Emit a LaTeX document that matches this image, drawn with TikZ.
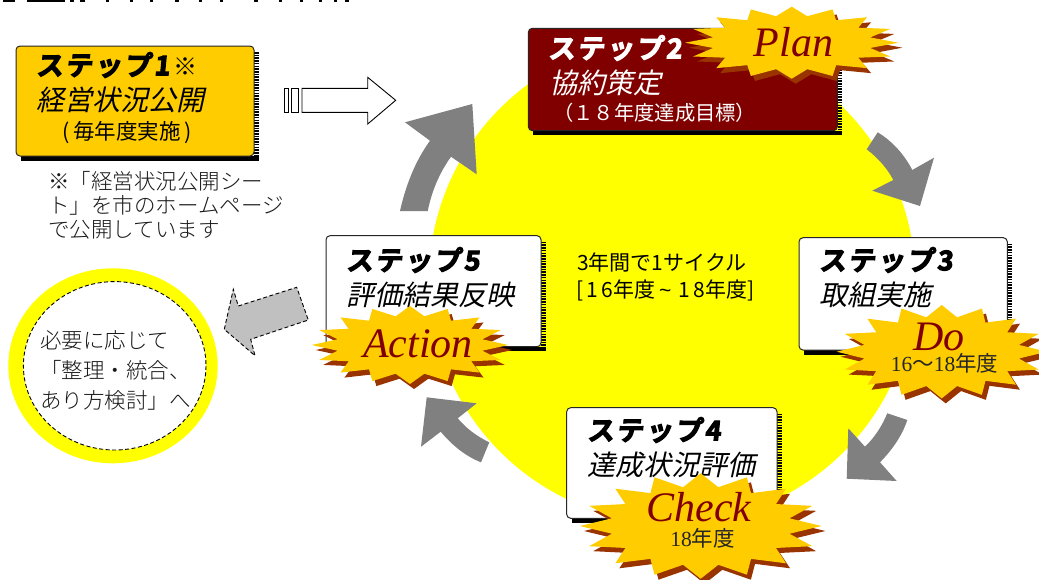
\documentclass[tikz,border=0pt]{standalone}
\usepackage{fontspec}
\setmainfont{Liberation Serif}
\newfontfamily\jp{Noto Sans CJK JP}
\newfontfamily\jpl{Noto Sans CJK JP Light}
\newfontfamily\jpit[FakeSlant=0.22]{Noto Sans CJK JP}
\newfontfamily\stepf[FakeBold=4,FakeSlant=0.1,LetterSpace=9]{Noto Sans CJK JP Bold}
\definecolor{goldy}{HTML}{FFCC00}
\definecolor{maroony}{HTML}{800000}
\definecolor{rusty}{HTML}{993300}
\definecolor{arrowgray}{HTML}{808080}
\definecolor{lightgray2}{HTML}{C0C0C0}
\definecolor{sunny}{HTML}{FFFF00}
\tikzset{
  frame/.style={draw=black!85,line width=1pt,rounded corners=4pt,anchor=north west,inner sep=0pt,outer sep=0pt},
  stepname/.style={font={\stepf\fontsize{27}{27}\selectfont},anchor=west,inner sep=0pt},
  stepsub/.style={font={\jpit\fontsize{28}{28}\selectfont},anchor=west,inner sep=0pt},
  plain/.style={font={\jpl\fontsize{21.5}{24}\selectfont},anchor=west,inner sep=0pt,text=black!90},
  caption/.style={font={\jp\fontsize{21}{21}\selectfont},anchor=west,inner sep=0pt},
  starword/.style={font={\itshape\fontsize{42}{42}\selectfont},text=maroony,anchor=base,inner sep=0pt},
  staryear/.style={font={\fontsize{21.5}{22}\selectfont},text=black!85,anchor=base,inner sep=0pt},
  bigarrow/.style={fill=arrowgray,draw=none},
}
\newcommand{\boxshadow}[4]{% x1 y1 x2 y2
  \fill[black] ({#1+5},{#4}) rectangle ({#3+5},{#4+4.5});
  \draw[black,line width=4.5pt,dash pattern=on 1.6pt off 1.1pt] ({#3+2.5},{#2+6}) -- ({#3+2.5},{#4+4});
}
\newcommand{\burst}[4]{% cx cy rx ry
  \fill[rusty] plot[samples at={0,...,31},variable=\k] ({#1+4+#3*ifthenelse(mod(\k,2)==0,1,0.75)*cos(\k*11.25)},{#2+5+#4*ifthenelse(mod(\k,2)==0,1,0.75)*sin(\k*11.25)}) -- cycle;
  \fill[goldy] plot[samples at={0,...,31},variable=\k] ({#1+#3*ifthenelse(mod(\k,2)==0,1,0.75)*cos(\k*11.25)},{#2+#4*ifthenelse(mod(\k,2)==0,1,0.75)*sin(\k*11.25)}) -- cycle;
}
\begin{document}
\begin{tikzpicture}[x=1pt,y=-1pt]
\useasboundingbox (0,0) rectangle (1039,579);
\fill[white] (0,0) rectangle (1039,579);
% clipped remains of a title along the top edge
\foreach \a/\b in {3/15,27/65,70/74,80/85,106/109,130/133,150/153,175/179,199/202,220/223,254/258,279/282,300/303,319/322,334/337,345/349}
  \fill[black] (\a,0) rectangle (\b,2);
% big yellow circle
\fill[sunny] (672,280) circle (243);
% curved grey arrows
\fill[bigarrow] (400,211) .. controls (406,184) and (416,160) .. (430,140.7) -- (405,122.3) -- (472.3,104) -- (476.7,174.3) -- (451,156.7) .. controls (440,172) and (432,190) .. (427.7,211) -- cycle;
\fill[bigarrow] (877.7,132.3) .. controls (892,141) and (904,154) .. (912.3,170) -- (934,157.7) -- (920,206) -- (872.3,190.7) -- (893.3,180) .. controls (887,168) and (878,158) .. (866.7,149.3) -- cycle;
\fill[bigarrow] (887.3,413.3) -- (907.3,420) .. controls (902,436) and (892,450) .. (880,462.3) -- (896.7,481) -- (846.7,478.7) -- (848.3,428.3) -- (865,446.7) .. controls (875,437) and (882,426) .. (887.3,413.3) -- cycle;
\fill[bigarrow] (489.3,442.3) -- (481,462.3) .. controls (465,456) and (452,445) .. (440.7,431.7) -- (421,446.7) -- (426.7,397.3) -- (476.7,403.3) -- (457.7,418.3) .. controls (466,428) and (476,436) .. (489.3,442.3) -- cycle;
% white striped block arrow
\draw[black,line width=0.9pt,fill=white] (284.3,88.3) rectangle (288.7,112.3);
\draw[black,line width=0.9pt,fill=white] (291.7,88.3) rectangle (298.7,112.3);
\draw[black,line width=0.9pt,fill=white] (302,88.3) -- (367.7,88.3) -- (367.7,77.3) -- (395.7,100.3) -- (367.7,124) -- (367.7,112.3) -- (302,112.3) -- cycle;
% dashed grey block arrow
\draw[black,line width=0.9pt,dash pattern=on 4pt off 2.5pt,fill=lightgray2] (224.3,329.3) -- (233.3,289.3) -- (238.3,306) -- (296.7,287.3) -- (308.3,320) -- (250.7,339.3) -- (255,355.7) -- cycle;
% ring
\fill[sunny] (113,365.8) ellipse (104.7 and 97.5);
\draw[black,line width=0.9pt,dash pattern=on 4pt off 2.5pt,fill=white] (114.7,365.8) ellipse (91.3 and 84.2);
\node[plain] (r1) at (40,340) {必要に応じて};
\node[plain] (r2) at (40,370) {「整理・統合、};
\node[plain] (r3) at (40,400) {あり方検討」へ};
% step 1
\boxshadow{16}{46}{254}{156}
\node[frame,fill=goldy,minimum width=238pt,minimum height=110pt] (s1) at (16,46) {};
\node[stepname] (s1a) at (36,65) {ステップ1};
\node[font={\jpl\fontsize{24}{24}\selectfont},anchor=center,inner sep=0pt] (s1m) at (185,67) {※};
\node[stepsub] (s1b) at (36,100) {経営状況公開};
\node[font={\jp\fontsize{21.5}{21.5}\selectfont},anchor=west,inner sep=0pt] (s1c) at (62,133) {(\,毎年度実施\,)};
\node[plain] (n1) at (48,181) {※「経営状況公開シー};
\node[plain] (n2) at (48,205) {ト」を市のホームページ};
\node[plain] (n3) at (48,230) {で公開しています};
% step 2
\boxshadow{528.3}{28.3}{837.3}{130.7}
\node[frame,fill=maroony,minimum width=309pt,minimum height=102.4pt] (s2) at (528.3,28.3) {};
\node[stepname,text=white] (s2a) at (548,48) {ステップ2};
\node[stepsub,text=white] (s2b) at (549,83) {協約策定};
\node[font={\jp\fontsize{20.3}{20}\selectfont},text=white,anchor=west,inner sep=0pt] (s2c) at (553,113) {（１８年度達成目標）};
% step 3
\boxshadow{799}{237.7}{1007.3}{350}
\node[frame,fill=white,minimum width=208.3pt,minimum height=112.3pt] (s3) at (799,237.7) {};
\node[stepname] (s3a) at (819,260) {ステップ3};
\node[stepsub] (s3b) at (819,295) {取組実施};
% step 4
\boxshadow{566.7}{407.7}{777}{518.3}
\node[frame,fill=white,minimum width=210.3pt,minimum height=110.6pt] (s4) at (566.7,407.7) {};
\node[stepname] (s4a) at (587,430) {ステップ4};
\node[stepsub] (s4b) at (587,465) {達成状況評価};
% step 5
\boxshadow{326}{235.7}{541}{346.7}
\node[frame,fill=white,minimum width=215pt,minimum height=111pt] (s5) at (326,235.7) {};
\node[stepname] (s5a) at (346,260) {ステップ5};
\node[stepsub] (s5b) at (346,295) {評価結果反映};
% centre caption
\node[caption] (c1) at (577,262) {3年間で1サイクル};
\node[caption] (c2) at (576,290) {[\,1\,6年度\,{\fontspec{Liberation Sans}\char"7E}\,\,1\,8年度]};
% bursts
\burst{791.7}{42.7}{106.7}{36}
\node[starword] (plan) at (793.5,56.7) {Plan};
\burst{941.7}{351.7}{105}{46.7}
\node[starword] (do) at (939,350) {Do};
\node[staryear] (doy) at (944.5,371) {16{\jp ～}18{\jp 年度}};
\burst{700.7}{526}{120.7}{52.7}
\node[starword] (check) at (699,521.7) {Check};
\node[staryear] (chy) at (702.5,546.7) {18{\jp 年度}};
\burst{410}{345}{98.3}{39}
\node[starword] (act) at (418,357.7) {Action};
\end{tikzpicture}
\end{document}
